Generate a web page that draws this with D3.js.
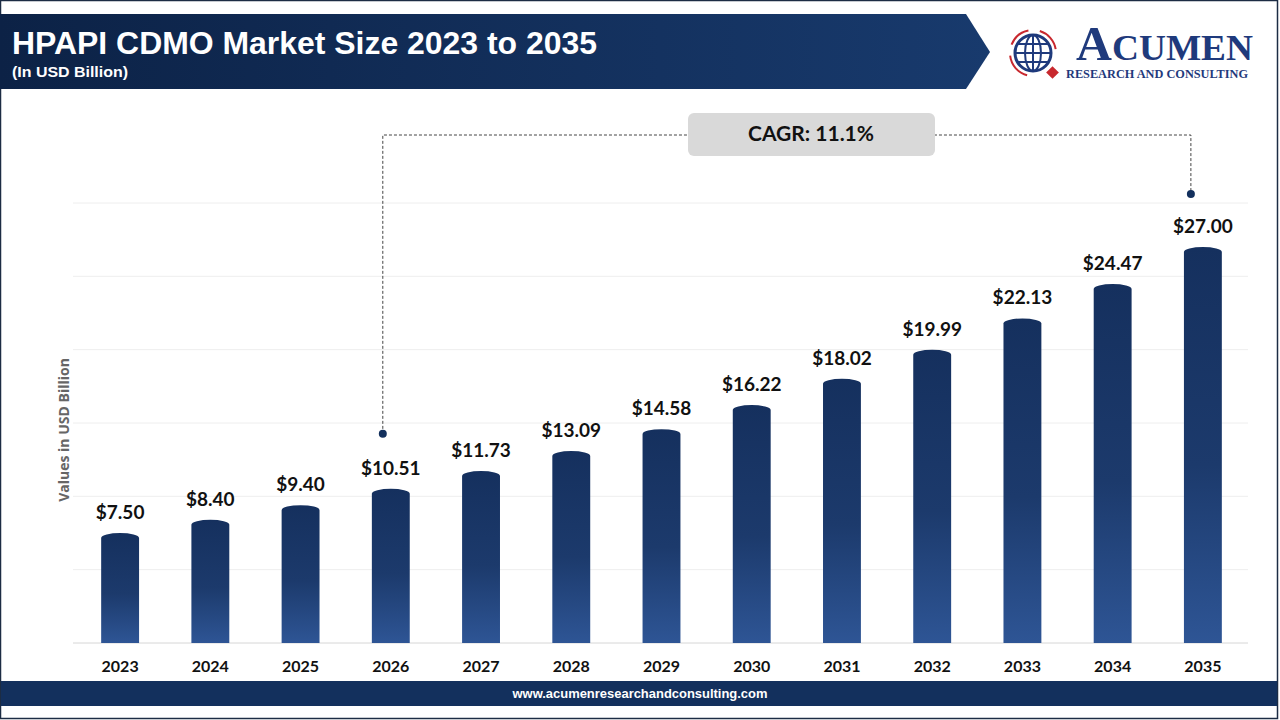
<!DOCTYPE html>
<html lang="en">
<head>
<meta charset="UTF-8">
<title>HPAPI CDMO Market Size 2023 to 2035</title>
<style>
  body { margin: 0; background: #fff; }
  svg { display: block; }
</style>
</head>
<body>
<svg id="chart" width="1280" height="720"></svg>
<script src="https://d3js.org/d3.v7.min.js"></script>
<script>
// chart data
var years = ["2023", "2024", "2025", "2026", "2027", "2028", "2029", "2030", "2031", "2032", "2033", "2034", "2035"];
var values = [7.50, 8.40, 9.40, 10.51, 11.73, 13.09, 14.58, 16.22, 18.02, 19.99, 22.13, 24.47, 27.00];
var yTicks = [0, 5, 10, 15, 20, 25, 30];
var cagrText = "CAGR: 11.1%";
var cagrFrom = "2026", cagrTo = "2035";

var svg = d3.select("#chart");
var defs = svg.append("defs");

var navy = "#13305d";
var narrow = "'Liberation Sans Narrow', 'Arial Narrow', 'Liberation Sans', sans-serif";
var lblFont = "Lato, 'Open Sans', sans-serif";

// frame
svg.append("rect").attr("x", 0.5).attr("y", 0.5).attr("width", 1277).attr("height", 718)
   .attr("fill", "#fff").attr("stroke", "#1c2c44").attr("stroke-width", 1.5);

// header band with arrow end
var hg = defs.append("linearGradient").attr("id", "hdr").attr("x1", 0).attr("x2", 1);
hg.append("stop").attr("offset", 0).attr("stop-color", "#0c2246");
hg.append("stop").attr("offset", 1).attr("stop-color", "#183a6d");
svg.append("path")
   .attr("d", "M0,14 L966,14 L990,52 L966,89 L0,89 Z")
   .attr("fill", "url(#hdr)");
svg.append("text").attr("x", 12).attr("y", 54)
   .attr("font-family", narrow).attr("font-weight", "bold").attr("font-size", 31).attr("fill", "#fff")
   .attr("textLength", 585).attr("lengthAdjust", "spacingAndGlyphs")
   .text("HPAPI CDMO Market Size 2023 to 2035");
svg.append("text").attr("x", 12).attr("y", 77)
   .attr("font-family", narrow).attr("font-weight", "bold").attr("font-size", 15).attr("fill", "#fff")
   .attr("textLength", 116).attr("lengthAdjust", "spacingAndGlyphs")
   .text("(In USD Billion)");

// logo
var blue = "#1f3a7c", red = "#c8282e";
var logo = svg.append("g").attr("transform", "translate(1033,53)");
logo.append("circle").attr("r", 18).attr("fill", "none").attr("stroke", blue).attr("stroke-width", 3);
logo.append("ellipse").attr("rx", 8).attr("ry", 18).attr("fill", "none").attr("stroke", blue).attr("stroke-width", 2);
logo.append("line").attr("x1", 0).attr("x2", 0).attr("y1", -18).attr("y2", 18).attr("stroke", blue).attr("stroke-width", 2);
[-9, 0, 9].forEach(function (dy) {
  var hw = Math.sqrt(18 * 18 - dy * dy);
  logo.append("line").attr("x1", -hw).attr("x2", hw).attr("y1", dy).attr("y2", dy)
      .attr("stroke", blue).attr("stroke-width", 2);
});
var arcR = d3.arc().innerRadius(22).outerRadius(24);
[[-1.2, -0.2], [0.3, 1.4], [3.4, 4.6]].forEach(function (a) {
  logo.append("path").attr("d", arcR({ startAngle: a[0], endAngle: a[1] })).attr("fill", red);
});
logo.append("rect").attr("x", 15).attr("y", 15).attr("width", 9).attr("height", 9)
    .attr("transform", "rotate(45,19.5,19.5)").attr("fill", red);
svg.append("text").attr("x", 1076).attr("y", 60)
   .attr("font-family", "'Liberation Serif', 'DejaVu Serif', serif").attr("font-weight", "bold")
   .attr("fill", blue).attr("textLength", 177).attr("lengthAdjust", "spacingAndGlyphs")
   .call(function (t) {
     t.append("tspan").attr("font-size", 48).text("A");
     t.append("tspan").attr("font-size", 36).text("CUMEN");
   });
svg.append("text").attr("x", 1066).attr("y", 78)
   .attr("font-family", "'Liberation Serif', 'DejaVu Serif', serif").attr("font-weight", "bold")
   .attr("font-size", 12).attr("fill", blue).attr("textLength", 182).attr("lengthAdjust", "spacingAndGlyphs")
   .text("RESEARCH AND CONSULTING");

// plot
var x = d3.scaleBand().domain(years).range([75, 1248]).paddingInner(0.58).paddingOuter(0.29);
var y = d3.scaleLinear().domain([0, 30]).range([643, 203]);

var grid = svg.append("g");
grid.selectAll("line").data(yTicks).enter().append("line")
    .attr("x1", 73).attr("x2", 1248)
    .attr("y1", function (d) { return y(d); }).attr("y2", function (d) { return y(d); })
    .attr("stroke", function (d) { return d === 0 ? "#d6d6d6" : "#eeeeee"; })
    .attr("stroke-width", 1);

var bg = defs.append("linearGradient").attr("id", "bar").attr("x1", 0).attr("x2", 0).attr("y1", 0).attr("y2", 1);
bg.append("stop").attr("offset", 0).attr("stop-color", "#15305e");
bg.append("stop").attr("offset", 0.55).attr("stop-color", "#1c3a6c");
bg.append("stop").attr("offset", 1).attr("stop-color", "#2e5595");

var bw = x.bandwidth(), ry = 5;
svg.append("g").selectAll("path").data(values).enter().append("path")
   .attr("fill", "url(#bar)")
   .attr("d", function (d, i) {
     var x0 = x(years[i]), x1 = x0 + bw, top = y(d) + ry, b = y(0);
     return "M" + x0 + "," + b + " L" + x0 + "," + top +
            " A" + (bw / 2) + "," + ry + " 0 0 1 " + x1 + "," + top +
            " L" + x1 + "," + b + " Z";
   });

svg.append("g").selectAll("text").data(values).enter().append("text")
   .attr("x", function (d, i) { return x(years[i]) + bw / 2; })
   .attr("y", function (d) { return y(d) - 14; })
   .attr("text-anchor", "middle").attr("font-family", lblFont).attr("font-weight", "bold")
   .attr("font-size", 19).attr("fill", "#111")
   .text(function (d) { return "$" + d.toFixed(2); });

// x axis labels
var xa = svg.append("g").attr("transform", "translate(0,643)")
   .call(d3.axisBottom(x).tickSize(0).tickPadding(18));
xa.select(".domain").remove();
xa.selectAll("text").attr("font-family", lblFont).attr("font-weight", "bold")
   .attr("font-size", 16).attr("fill", "#111");

// y axis title
svg.append("text").attr("transform", "translate(69,430) rotate(-90)")
   .attr("text-anchor", "middle").attr("font-family", "'Open Sans', sans-serif")
   .attr("font-weight", "bold").attr("font-size", 14).attr("fill", "#666")
   .text("Values in USD Billion");

// CAGR annotation
var ax0 = x(cagrFrom) + bw / 2 - 8, ax1 = x(cagrTo) + bw / 2 - 12;
var ay = 135;
var i0 = years.indexOf(cagrFrom);
svg.append("path")
   .attr("d", "M" + ax0 + "," + (y(values[i0]) - 55) + " V" + ay + " H" + ax1 + " V194")
   .attr("fill", "none").attr("stroke", "#444").attr("stroke-width", 1).attr("stroke-dasharray", "3,2");
svg.append("circle").attr("cx", ax0).attr("cy", y(values[i0]) - 55).attr("r", 4).attr("fill", navy);
svg.append("circle").attr("cx", ax1).attr("cy", 194).attr("r", 4).attr("fill", navy);
svg.append("rect").attr("x", 688).attr("y", 113).attr("width", 247).attr("height", 43).attr("rx", 6)
   .attr("fill", "#d9d9d9");
svg.append("text").attr("x", 811).attr("y", 141).attr("text-anchor", "middle")
   .attr("font-family", lblFont).attr("font-weight", "bold").attr("font-size", 21).attr("fill", "#111")
   .text(cagrText);

// footer
svg.append("rect").attr("x", 1).attr("y", 681).attr("width", 1276).attr("height", 25).attr("fill", navy);
svg.append("text").attr("x", 640).attr("y", 698).attr("text-anchor", "middle")
   .attr("font-family", narrow).attr("font-weight", "bold")
   .attr("font-size", 13).attr("fill", "#fff").attr("textLength", 255).attr("lengthAdjust", "spacingAndGlyphs")
   .text("www.acumenresearchandconsulting.com");
</script>
</body>
</html>
